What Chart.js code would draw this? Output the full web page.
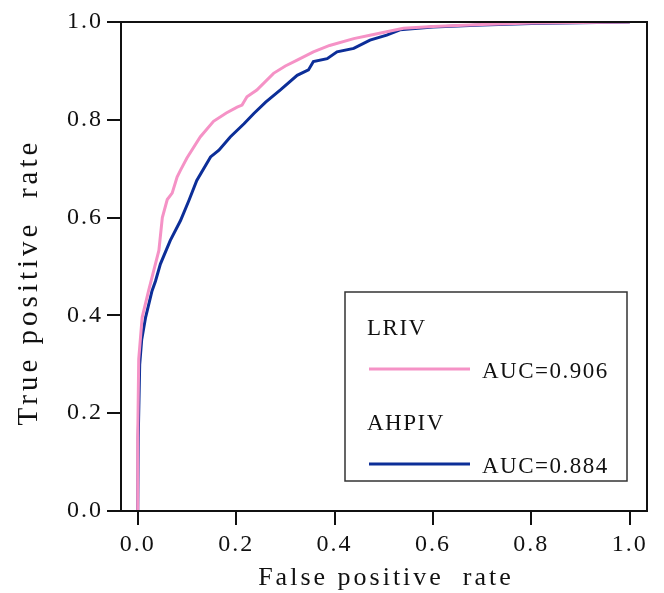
<!DOCTYPE html>
<html>
<head>
<meta charset="utf-8">
<script src="https://cdn.jsdelivr.net/npm/chart.js@4.4.1/dist/chart.umd.min.js"></script>
<style>
html, body { margin: 0; padding: 0; background: #fff; }
#wrap { width: 664px; height: 593px; }
</style>
</head>
<body>
<div id="wrap"><canvas id="roc"></canvas></div>
<script>
// ROC curves
const fprLRIV = [0, 0.0, 0.002, 0.009, 0.022, 0.043, 0.05, 0.06, 0.07, 0.08, 0.087, 0.1, 0.127, 0.154, 0.18, 0.202, 0.212, 0.222, 0.242, 0.276, 0.3, 0.324, 0.357, 0.39, 0.439, 0.472, 0.506, 0.54, 0.6, 0.7, 0.8, 1.0];
const tprLRIV = [0, 0.15, 0.31, 0.396, 0.45, 0.533, 0.6, 0.637, 0.65, 0.683, 0.697, 0.722, 0.765, 0.797, 0.814, 0.826, 0.83, 0.847, 0.861, 0.895, 0.91, 0.922, 0.939, 0.952, 0.966, 0.973, 0.98, 0.987, 0.991, 0.995, 0.998, 1.0];

const fprAHPIV = [0, 0.001, 0.004, 0.008, 0.016, 0.029, 0.036, 0.046, 0.066, 0.087, 0.104, 0.12, 0.148, 0.165, 0.188, 0.216, 0.236, 0.26, 0.29, 0.324, 0.347, 0.357, 0.385, 0.405, 0.439, 0.472, 0.506, 0.533, 0.6, 0.7, 0.8, 1.0];
const tprAHPIV = [0, 0.15, 0.3, 0.35, 0.396, 0.45, 0.47, 0.505, 0.553, 0.594, 0.635, 0.676, 0.724, 0.738, 0.765, 0.792, 0.813, 0.836, 0.861, 0.891, 0.902, 0.919, 0.925, 0.939, 0.946, 0.963, 0.973, 0.984, 0.99, 0.994, 0.997, 1.0];

const seriesNames = ['LRIV', 'AHPIV'];
const aucLabels = ['AUC=0.906', 'AUC=0.884'];
const tickValues = [0, 0.2, 0.4, 0.6, 0.8, 1.0];
const xTitle = 'False positive  rate';
const yTitle = 'True positive  rate';

const pink = '#f592c6';
const blue = '#0c2e98';
const FONT = '"Liberation Serif", "Times New Roman", serif';

function toPoints(xs, ys) {
    return xs.map((x, i) => ({ x: x, y: ys[i] }));
}

// spacing on tick labels, frame round the plot
const framePlugin = {
    id: 'frame',
    beforeDraw(chart) {
        chart.ctx.letterSpacing = '2px';
    },
    afterDraw(chart) {
        const ctx = chart.ctx;
        const a = chart.chartArea;
        ctx.save();
        ctx.letterSpacing = '0px';
        ctx.strokeStyle = '#111';
        ctx.lineWidth = 2;
        ctx.strokeRect(a.left, a.top, a.right - a.left, a.bottom - a.top);
        ctx.restore();
    }
};

// axis titles, drawn by hand to get the wide letter spacing of the original
const titlePlugin = {
    id: 'titles',
    afterDraw(chart) {
        const ctx = chart.ctx;
        ctx.save();
        ctx.fillStyle = '#111';
        ctx.textAlign = 'center';
        ctx.textBaseline = 'alphabetic';

        ctx.font = '26px ' + FONT;
        ctx.letterSpacing = '3px';
        ctx.fillText(xTitle, 386, 585);

        ctx.translate(37, 282);
        ctx.rotate(-Math.PI / 2);
        ctx.font = '29px ' + FONT;
        ctx.letterSpacing = '4px';
        ctx.fillText(yTitle, 0, 0);
        ctx.restore();
    }
};

// boxed legend: name on one row, line sample and AUC on the next
const legendPlugin = {
    id: 'aucLegend',
    afterDraw(chart) {
        const ctx = chart.ctx;
        ctx.save();
        ctx.fillStyle = '#fff';
        ctx.fillRect(345, 292, 282, 189);
        ctx.strokeStyle = '#333';
        ctx.lineWidth = 1.5;
        ctx.strokeRect(345, 292, 282, 189);

        ctx.font = '23px ' + FONT;
        ctx.letterSpacing = '1.5px';
        ctx.textAlign = 'left';
        ctx.textBaseline = 'alphabetic';
        chart.data.datasets.forEach((ds, i) => {
            const top = 335 + i * 95;
            ctx.fillStyle = '#111';
            ctx.fillText(ds.label, 367, top);
            const ly = top + 34;
            ctx.strokeStyle = ds.borderColor;
            ctx.lineWidth = 3;
            ctx.beginPath();
            ctx.moveTo(369, ly);
            ctx.lineTo(470, ly);
            ctx.stroke();
            ctx.fillStyle = '#111';
            ctx.fillText(aucLabels[i], 482, top + 43);
        });
        ctx.restore();
    }
};

const axisStyle = {
    border: { display: true, color: '#111', width: 2 },
    grid: {
        display: true,
        drawOnChartArea: false,
        drawTicks: true,
        tickLength: 14,
        color: '#111',
        lineWidth: 2
    },
    ticks: {
        color: '#111',
        font: { family: FONT, size: 24 },
        padding: 4,
        callback: v => Number(v).toFixed(1)
    }
};

new Chart(document.getElementById('roc'), {
    type: 'scatter',
    data: {
        datasets: [
            {
                label: seriesNames[0],
                data: toPoints(fprLRIV, tprLRIV),
                showLine: true,
                borderColor: pink,
                backgroundColor: pink,
                borderWidth: 3,
                pointRadius: 0,
                tension: 0
            },
            {
                label: seriesNames[1],
                data: toPoints(fprAHPIV, tprAHPIV),
                showLine: true,
                borderColor: blue,
                backgroundColor: blue,
                borderWidth: 3,
                pointRadius: 0,
                tension: 0
            }
        ]
    },
    options: {
        responsive: true,
        maintainAspectRatio: false,
        animation: false,
        layout: { padding: { left: 0, top: 22, right: 17, bottom: 0 } },
        plugins: {
            legend: { display: false },
            tooltip: { enabled: false }
        },
        scales: {
            x: {
                ...axisStyle,
                type: 'linear',
                min: -0.034,
                max: 1.035,
                ticks: { ...axisStyle.ticks, padding: 5 },
                afterBuildTicks: s => { s.ticks = tickValues.map(v => ({ value: v })); },
                afterFit: s => { s.height = 82; }
            },
            y: {
                ...axisStyle,
                type: 'linear',
                min: 0,
                max: 1,
                afterBuildTicks: s => { s.ticks = tickValues.map(v => ({ value: v })); },
                afterFit: s => { s.width = 121; }
            }
        }
    },
    plugins: [framePlugin, titlePlugin, legendPlugin]
});
</script>
</body>
</html>
